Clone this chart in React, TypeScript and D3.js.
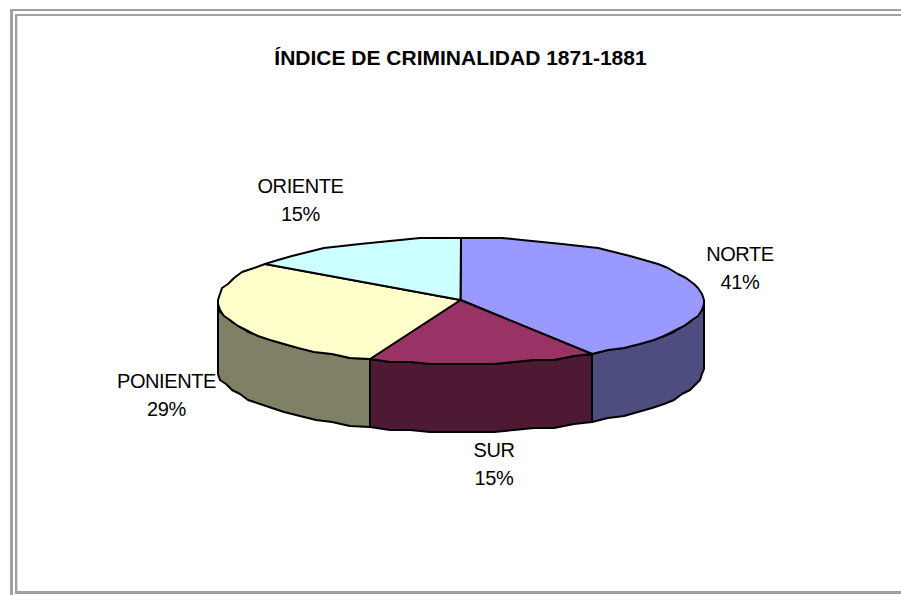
import React from "react";
import * as d3 from "d3";

const categories = ["NORTE", "SUR", "PONIENTE", "ORIENTE"];
const values = [40.9, 15.2, 29.0, 14.9];
const topColors = ["#9999ff", "#993366", "#ffffcc", "#ccffff"];
const sideColors = ["#4d4d80", "#4d1933", "#808066", "#668080"];
const labelX = [740, 494, 166.5, 300.5];
const labelY = [261, 457, 388, 193];

const W = 901, H = 595;
const cx = 460.5, cy = 301, rx = 243, ry = 63, depth = 68;
const FONT = "Arial, 'Liberation Sans', sans-serif";

const arcs = d3.pie<number>().sort(null)(values);
const px = d3.scaleLinear().domain([-1, 1]).range([cx - rx, cx + rx]);
const py = d3.scaleLinear().domain([-1, 1]).range([cy - ry, cy + ry]);

function rimPoints(a0: number, a1: number): [number, number][] {
  const step = (2 * Math.PI) / 72;
  const k = Math.ceil((a1 - a0) / step);
  const angles = d3.range(k + 1).map((i) => a0 + ((a1 - a0) * i) / k);
  return angles.map((a, i) => {
    const x = px(Math.sin(a));
    const y = py(-Math.cos(a));
    const end = i === 0 || i === k;
    return (end ? [Math.round(x), Math.round(y)] : [Math.round(x / 2) * 2, Math.round(y / 2) * 2]) as [number, number];
  });
}
const line = d3.line();

function topPath(a0: number, a1: number) {
  return line([[px(0), py(0) - 1], ...rimPoints(a0, a1)]) + "Z";
}
function sidePath(a0: number, a1: number) {
  const lo = Math.max(a0, Math.PI / 2);
  const hi = Math.min(a1, (3 * Math.PI) / 2);
  if (hi <= lo) return null;
  const r = rimPoints(lo, hi);
  const bottom = r.map(([x, y]) => [x, y + depth] as [number, number]).reverse();
  return line([...r, ...bottom]) + "Z";
}

export default function App() {
  return (
    <svg width={W} height={H} style={{ position: "absolute", left: 0, top: 0, background: "#fff" }}>
      <g fill="#a0a0a0">
        <rect x={10} y={9} width={891} height={2} />
        <rect x={10} y={9} width={3} height={586} />
        <rect x={15} y={14} width={886} height={2} />
        <rect x={15} y={14} width={2} height={580} />
        <rect x={15} y={591} width={886} height={3} />
      </g>
      <rect x={17} y={16} width={1} height={575} fill="#dcdcdc" />
      <text x={460.5} y={65} textAnchor="middle" fontFamily={FONT} fontSize={21} fontWeight={700} fill="#000">
        ÍNDICE DE CRIMINALIDAD 1871-1881
      </text>
      <g stroke="#000" strokeWidth={2} strokeLinejoin="round">
        {arcs.map((a, i) => {
          const d = sidePath(a.startAngle, a.endAngle);
          return d ? <path key={i} d={d} fill={sideColors[i]} /> : null;
        })}
        {arcs.map((a, i) => (
          <path key={i} d={topPath(a.startAngle, a.endAngle)} fill={topColors[i]} />
        ))}
      </g>
      {arcs.map((a, i) => (
        <text key={i} textAnchor="middle" fontFamily={FONT} fontSize={20} fill="#000" style={{ letterSpacing: "-0.4px" }}>
          <tspan x={labelX[i]} y={labelY[i]}>{categories[i]}</tspan>
          <tspan x={labelX[i]} y={labelY[i] + 28}>{Math.round(values[i])}%</tspan>
        </text>
      ))}
    </svg>
  );
}
